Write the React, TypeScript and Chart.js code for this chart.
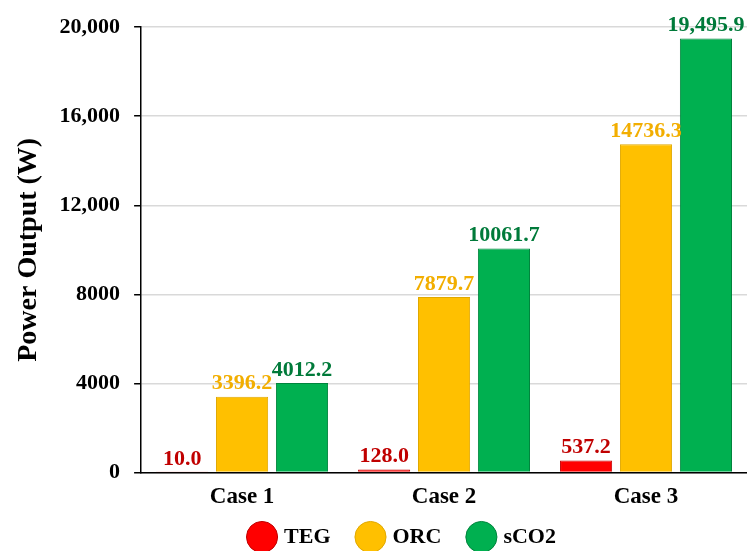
import React, { useEffect, useRef } from "react";
import { Chart, registerables } from "chart.js";

Chart.register(...registerables);

const categories = ["Case 1", "Case 2", "Case 3"];
const tegValues = [10.0, 128.0, 537.2];
const orcValues = [3396.2, 7879.7, 14736.3];
const sco2Values = [4012.2, 10061.7, 19495.9];
const seriesNames = ["TEG", "ORC", "sCO2"];
const yTickLabels: Record<number, string> = {
  0: "0",
  4000: "4000",
  8000: "8000",
  12000: "12,000",
  16000: "16,000",
  20000: "20,000",
};
const valueLabels = [
  ["10.0", "128.0", "537.2"],
  ["3396.2", "7879.7", "14736.3"],
  ["4012.2", "10061.7", "19,495.9"],
];

const FONT = "'Liberation Serif', 'Times New Roman', serif";
const fills = ["#FF0000", "#FFC000", "#00B050"];
const borders = ["#C00000", "#E0A800", "#00843D"];
const labelColors = ["#C00000", "#F2AE00", "#007A3A"];

const labelPlugin = {
  id: "valueLabels",
  afterDatasetsDraw(chart: any) {
    const ctx = chart.ctx;
    ctx.save();
    ctx.font = `bold 22px ${FONT}`;
    ctx.textAlign = "center";
    ctx.textBaseline = "bottom";
    chart.data.datasets.forEach((ds: any, di: number) => {
      const meta = chart.getDatasetMeta(di);
      meta.data.forEach((bar: any, i: number) => {
        ctx.fillStyle = labelColors[di];
        ctx.fillText(valueLabels[di][i], bar.x, bar.y - 2);
      });
    });
    ctx.restore();
  },
};

const legendLayoutPlugin = {
  id: "legendLayout",
  beforeLayout(chart: any) {
    const lg = chart.legend;
    if (lg && !lg._patched) {
      const orig = lg.fit;
      lg.fit = function () {
        orig.call(this);
        this.height = 37;
      };
      lg._patched = true;
    }
  },
  afterLayout(chart: any) {
    const lg = chart.legend;
    if (lg) {
      lg.left += 48;
      lg.top = 497;
      lg.bottom = 551;
    }
  },
};

export default function App() {
  const ref = useRef<HTMLCanvasElement>(null);
  useEffect(() => {
    document.body.style.margin = "0";
    const chart = new Chart(ref.current!, {
      type: "bar",
      data: {
        labels: categories,
        datasets: [tegValues, orcValues, sco2Values].map((d, i) => ({
          label: seriesNames[i],
          data: d,
          backgroundColor: fills[i],
          borderColor: borders[i],
          borderWidth: 1,
          barPercentage: 0.87,
          categoryPercentage: 0.89,
        })),
      },
      options: {
        animation: false,
        responsive: false,
        layout: { padding: { top: 10, right: 0, left: 12, bottom: 0 } },
        plugins: {
          legend: {
            position: "bottom",
            labels: {
              usePointStyle: true,
              pointStyle: "circle",
              boxWidth: 22,
              boxHeight: 22,
              padding: 29,
              color: "#000",
              font: { family: FONT, size: 22, weight: "bold" },
            },
          },
          tooltip: { enabled: false },
        },
        scales: {
          x: {
            grid: { display: false },
            border: { display: true, color: "#000", width: 1.5 },
            ticks: { color: "#000", font: { family: FONT, size: 23, weight: "bold" }, padding: 3 },
          },
          y: {
            min: 0,
            max: 20000,
            ticks: {
              stepSize: 4000,
              color: "#000",
              font: { family: FONT, size: 22, weight: "bold" },
              padding: 14,
              callback: (v: any) => yTickLabels[v as number] ?? String(v),
            },
            grid: { color: "#d9d9d9", lineWidth: 1.5, tickColor: "#000", tickLength: 7 },
            border: { display: true, color: "#000", width: 1.5 },
            title: {
              display: true,
              text: "Power Output (W)",
              color: "#000",
              font: { family: FONT, size: 28, weight: "bold" },
              padding: { top: 0, bottom: 0 },
            },
          },
        },
      },
      plugins: [labelPlugin, legendLayoutPlugin],
    });
    return () => chart.destroy();
  }, []);
  return (
    <div style={{ width: 747, height: 551 }}>
      <canvas ref={ref} width={747} height={551} style={{ display: "block" }} />
    </div>
  );
}
